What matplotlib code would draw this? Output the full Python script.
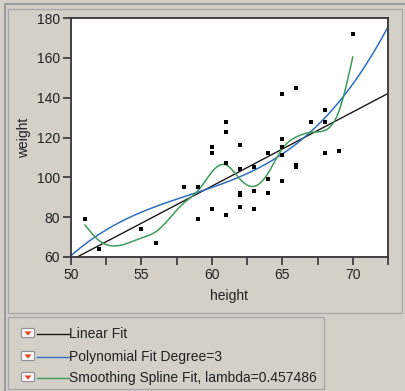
import numpy as np
import matplotlib
matplotlib.use('Agg')
import matplotlib.pyplot as plt
from matplotlib.patches import Rectangle, FancyBboxPatch, Polygon
from matplotlib.ticker import MultipleLocator

plt.rcParams['font.family'] = ['Liberation Sans', 'DejaVu Sans']

# height / weight data
height = [59, 61, 55, 66, 52, 60, 61, 51, 60, 61, 56, 65, 63, 58, 59, 61, 62, 65, 63, 62,
          63, 64, 65, 64, 68, 64, 69, 62, 64, 67, 65, 66, 62, 66, 65, 60, 68, 62, 68, 70]
weight = [95, 123, 74, 145, 64, 84, 128, 79, 112, 107, 67, 98, 105, 95, 79, 81, 91, 142, 84, 85,
          93, 99, 119, 92, 112, 99, 113, 92, 112, 128, 111, 105, 104, 106, 115, 115, 128, 116, 134, 172]

fit_labels = ['Linear Fit', 'Polynomial Fit Degree=3', 'Smoothing Spline Fit, lambda=0.457486']
fit_colors = ['#1a1a1a', '#2e6fc4', '#3d9b5c']
lam = 0.457486

x = np.array(height, dtype=float)
y = np.array(weight, dtype=float)


def smooth_spline(x, y, lam, xs):
    # cubic smoothing spline (Reinsch form), ties averaged with weights
    xu, inv = np.unique(x, return_inverse=True)
    w = np.bincount(inv).astype(float)
    yb = np.bincount(inv, y) / w
    n = len(xu)
    h = np.diff(xu)
    Q = np.zeros((n, n - 2))
    R = np.zeros((n - 2, n - 2))
    for j in range(1, n - 1):
        Q[j - 1, j - 1] = 1 / h[j - 1]
        Q[j, j - 1] = -1 / h[j - 1] - 1 / h[j]
        Q[j + 1, j - 1] = 1 / h[j]
        R[j - 1, j - 1] = (h[j - 1] + h[j]) / 3
        if j < n - 2:
            R[j - 1, j] = R[j, j - 1] = h[j] / 6
    K = Q @ np.linalg.solve(R, Q.T)
    g = np.linalg.solve(np.diag(w) + lam * K, w * yb)
    M = np.zeros(n)
    M[1:-1] = np.linalg.solve(R, Q.T @ g)
    i = np.clip(np.searchsorted(xu, xs) - 1, 0, n - 2)
    a = xs - xu[i]
    b = xu[i + 1] - xs
    hi = h[i]
    return (b * g[i] + a * g[i + 1]) / hi - a * b / 6 * ((1 + a / hi) * M[i + 1] + (1 + b / hi) * M[i])


bg = '#d4d0c8'
fig = plt.figure(figsize=(4.06, 3.91), dpi=100, facecolor=bg)
W, H = 406, 391


def fx(px):
    return px / W


def fy(py):
    return 1 - py / H


# panel frames
fig.patches.append(Rectangle((fx(4), fy(391)), fx(2), fy(4) - fy(391), transform=fig.transFigure,
                             facecolor='#9a9a9a', edgecolor='none'))
fig.patches.append(Rectangle((fx(4), fy(5)), fx(402), fy(3) - fy(5), transform=fig.transFigure,
                             facecolor='#9a9a9a', edgecolor='none'))
fig.patches.append(Rectangle((fx(8), fy(313)), fx(394), fy(9) - fy(313), transform=fig.transFigure,
                             facecolor='none', edgecolor='#a8a8a8', lw=1))
fig.patches.append(Rectangle((fx(8), fy(389)), fx(316), fy(317) - fy(389), transform=fig.transFigure,
                             facecolor='none', edgecolor='#a8a8a8', lw=1))

ax = fig.add_axes([fx(71), fy(257), fx(388 - 71), fy(18) - fy(257)])
ax.set_facecolor('white')

xs = np.linspace(50, 72.5, 300)
lin = np.polyfit(x, y, 1)
cub = np.polyfit(x, y, 3)
ax.plot(xs, np.polyval(lin, xs), color=fit_colors[0], lw=1)
ax.plot(xs, np.polyval(cub, xs), color=fit_colors[1], lw=1.1)
xsp = np.linspace(x.min(), x.max(), 400)
ax.plot(xsp, smooth_spline(x, y, lam, xsp), color=fit_colors[2], lw=1.1)
ax.scatter(x, y, s=5, marker='s', color='black', zorder=3, linewidths=0)

ax.set_xlim(50, 72.5)
ax.set_ylim(60, 180)
ax.xaxis.set_major_locator(MultipleLocator(5))
ax.xaxis.set_minor_locator(MultipleLocator(2.5))
ax.yaxis.set_major_locator(MultipleLocator(20))
ax.tick_params(which='both', direction='out', length=6, width=1.2, color='#333333',
               labelsize=10, labelcolor='#222222', pad=2)
for s in ax.spines.values():
    s.set_color('#333333')
    s.set_linewidth(1.3)

ax.set_xlabel('height', fontsize=10, color='#222222', labelpad=5)
ax.set_ylabel('weight', fontsize=10, color='#222222', labelpad=4)

# legend panel rows
rows = [333, 356, 377]
for yy, lab, col in zip(rows, fit_labels, fit_colors):
    fig.patches.append(FancyBboxPatch((fx(23), fy(yy + 3)), fx(10), fy(yy - 3) - fy(yy + 3),
                                      boxstyle='round,pad=0.004', transform=fig.transFigure,
                                      facecolor='#f4f4f4', edgecolor='#909090', lw=0.8))
    fig.patches.append(Polygon([(fx(24.5), fy(yy - 1.5)), (fx(31.5), fy(yy - 1.5)), (fx(28), fy(yy + 2.5))],
                               closed=True, transform=fig.transFigure, facecolor='#e8401c', edgecolor='none'))
    fig.lines.append(plt.Line2D([fx(37), fx(69)], [fy(yy + 1), fy(yy + 1)], transform=fig.transFigure,
                                color=col, lw=1))
    fig.text(fx(69), fy(yy + 1), lab, fontsize=10, color='#222222', va='center', ha='left')

fig.savefig('out.png', dpi=100, facecolor=bg)
